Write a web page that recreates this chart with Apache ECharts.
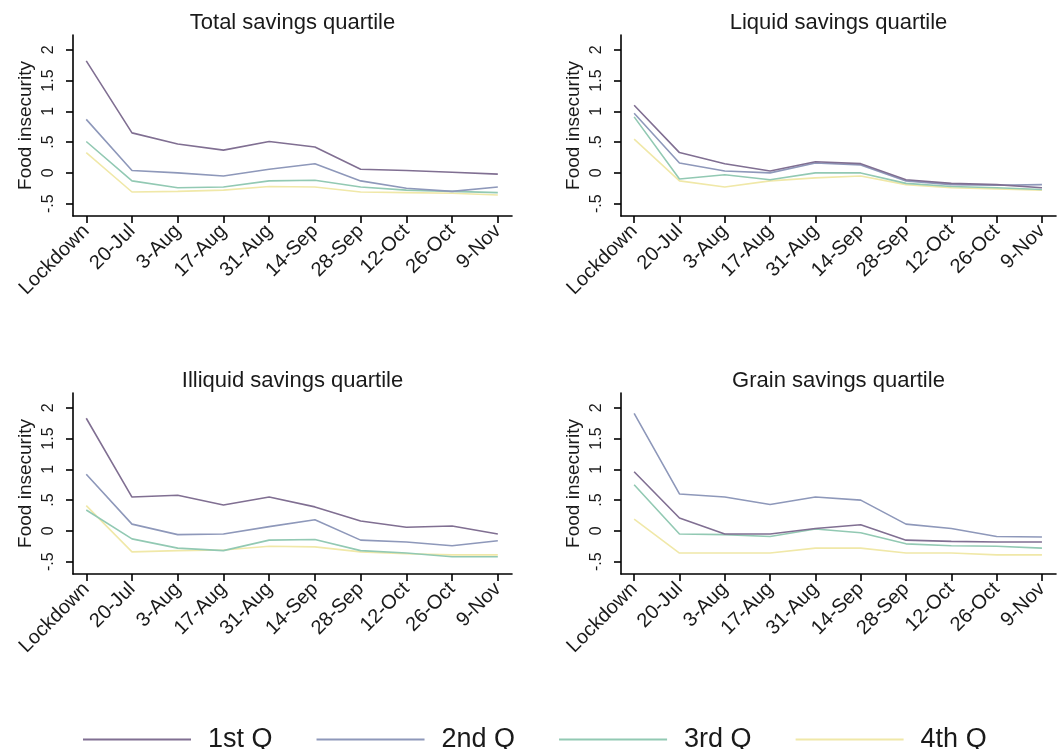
<!DOCTYPE html>
<html>
<head>
<meta charset="utf-8">
<script src="https://cdn.jsdelivr.net/npm/echarts@6/dist/echarts.min.js"></script>
<style>
html,body{margin:0;padding:0;background:#fff;}
#chart{width:1063px;height:749px;}
</style>
</head>
<body>
<div id="chart"></div>
<script>
// ---------- data ----------
const categories = ['Lockdown','20-Jul','3-Aug','17-Aug','31-Aug','14-Sep','28-Sep','12-Oct','26-Oct','9-Nov'];
const yTicks = [-0.5, 0, 0.5, 1, 1.5, 2];
const yTickLabels = ['-.5', '0', '.5', '1', '1.5', '2'];
const quartiles = ['1st Q', '2nd Q', '3rd Q', '4th Q'];
const panelTitles = ['Total savings quartile', 'Liquid savings quartile', 'Illiquid savings quartile', 'Grain savings quartile'];
const yAxisTitle = 'Food insecurity';

const total_q1 = [1.82, 0.65, 0.47, 0.37, 0.51, 0.42, 0.06, 0.04, 0.01, -0.02];
const total_q2 = [0.87, 0.04, 0.00, -0.05, 0.06, 0.15, -0.13, -0.25, -0.30, -0.23];
const total_q3 = [0.51, -0.13, -0.24, -0.23, -0.13, -0.12, -0.23, -0.28, -0.30, -0.32];
const total_q4 = [0.33, -0.31, -0.30, -0.28, -0.22, -0.23, -0.31, -0.32, -0.33, -0.36];

const liquid_q1 = [1.10, 0.33, 0.15, 0.03, 0.18, 0.15, -0.11, -0.17, -0.19, -0.24];
const liquid_q2 = [0.97, 0.16, 0.03, 0.00, 0.16, 0.13, -0.13, -0.19, -0.20, -0.19];
const liquid_q3 = [0.91, -0.10, -0.03, -0.11, 0.00, 0.00, -0.17, -0.22, -0.24, -0.27];
const liquid_q4 = [0.55, -0.13, -0.23, -0.13, -0.08, -0.05, -0.19, -0.24, -0.26, -0.28];

const illiquid_q1 = [1.83, 0.55, 0.58, 0.42, 0.55, 0.39, 0.16, 0.06, 0.08, -0.05];
const illiquid_q2 = [0.92, 0.11, -0.06, -0.05, 0.07, 0.18, -0.15, -0.18, -0.24, -0.16];
const illiquid_q3 = [0.34, -0.13, -0.28, -0.32, -0.15, -0.14, -0.32, -0.36, -0.42, -0.42];
const illiquid_q4 = [0.41, -0.34, -0.32, -0.31, -0.25, -0.26, -0.34, -0.37, -0.39, -0.39];

const grain_q1 = [0.96, 0.21, -0.05, -0.05, 0.04, 0.10, -0.15, -0.17, -0.18, -0.18];
const grain_q2 = [1.91, 0.60, 0.55, 0.43, 0.55, 0.50, 0.11, 0.04, -0.09, -0.10];
const grain_q3 = [0.75, -0.05, -0.06, -0.09, 0.03, -0.03, -0.21, -0.24, -0.25, -0.28];
const grain_q4 = [0.19, -0.36, -0.36, -0.36, -0.28, -0.28, -0.36, -0.36, -0.39, -0.39];

const panels = [
  [total_q1, total_q2, total_q3, total_q4],
  [liquid_q1, liquid_q2, liquid_q3, liquid_q4],
  [illiquid_q1, illiquid_q2, illiquid_q3, illiquid_q4],
  [grain_q1, grain_q2, grain_q3, grain_q4]
];

// ---------- style / layout ----------
const colors = ['#806f92', '#8e98ba', '#92c9b3', '#f0e8a8'];
const FONT = '"Liberation Sans", Arial, Helvetica, sans-serif';
const TXT = '#1a1a1a';
const grids = [
  {left: 73, top: 35, width: 439, height: 181},
  {left: 621, top: 35, width: 435, height: 181},
  {left: 73, top: 393, width: 439, height: 181},
  {left: 621, top: 393, width: 435, height: 181}
];
const tickIdx = categories.map((c, i) => i);

const option = {
  backgroundColor: '#fff',
  animation: false,
  textStyle: {fontFamily: FONT, color: TXT},
  title: grids.map((g, i) => ({
    text: panelTitles[i],
    left: g.left + g.width / 2,
    top: g.top - 23,
    textAlign: 'center',
    padding: 0,
    textStyle: {fontFamily: FONT, fontSize: 22, fontWeight: 'normal', color: TXT}
  })),
  legend: {
    left: 78,
    top: 721,
    icon: 'rect',
    itemWidth: 108,
    itemHeight: 2,
    itemGap: 44,
    data: quartiles,
    textStyle: {fontFamily: FONT, fontSize: 27, color: TXT, padding: [0, 0, 0, 12]}
  },
  grid: grids.map(g => Object.assign({containLabel: false, outerBoundsMode: 'none', show: false}, g)),
  xAxis: grids.map((g, i) => ({
    type: 'value',
    gridIndex: i,
    min: -0.29,
    max: 9.31,
    splitLine: {show: false},
    axisLine: {show: true, onZero: false, lineStyle: {color: '#000', width: 1.6}},
    axisTick: {show: true, customValues: tickIdx, length: 7, lineStyle: {color: '#000', width: 1.6}},
    axisLabel: {
      customValues: tickIdx,
      rotate: 45,
      margin: 12,
      fontFamily: FONT,
      fontSize: 20,
      color: TXT,
      formatter: v => categories[Math.round(v)]
    }
  })),
  yAxis: grids.map((g, i) => ({
    type: 'value',
    gridIndex: i,
    min: -0.7,
    max: 2.24,
    name: yAxisTitle,
    nameLocation: 'middle',
    nameGap: 38,
    nameRotate: 90,
    nameTextStyle: {fontFamily: FONT, fontSize: 19, color: TXT},
    splitLine: {show: false},
    axisLine: {show: true, onZero: false, lineStyle: {color: '#000', width: 1.6}},
    axisTick: {show: true, customValues: yTicks, length: 7, lineStyle: {color: '#000', width: 1.6}},
    axisLabel: {
      customValues: yTicks,
      rotate: 90,
      margin: 16,
      fontFamily: FONT,
      fontSize: 16,
      color: TXT,
      formatter: v => yTickLabels[yTicks.findIndex(t => Math.abs(t - v) < 1e-6)]
    }
  })),
  series: []
};

panels.forEach((p, pi) => {
  p.forEach((vals, qi) => {
    option.series.push({
      type: 'line',
      name: quartiles[qi],
      xAxisIndex: pi,
      yAxisIndex: pi,
      data: vals.map((v, k) => [k, v]),
      symbol: 'none',
      z: 10 - qi,
      lineStyle: {color: colors[qi], width: 1.6},
      itemStyle: {color: colors[qi]}
    });
  });
});

const chart = echarts.init(document.getElementById('chart'), null, {renderer: 'canvas'});
chart.setOption(option);
</script>
</body>
</html>
